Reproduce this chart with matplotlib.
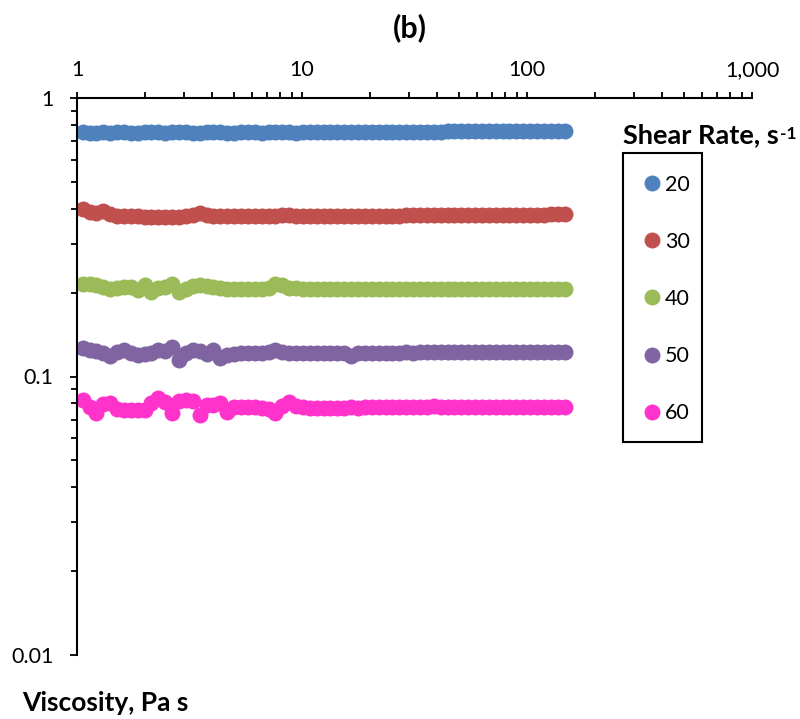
import matplotlib
matplotlib.use("Agg")
import matplotlib.pyplot as plt
from matplotlib.patches import Rectangle
from matplotlib.ticker import FixedLocator, FuncFormatter, LogLocator, NullFormatter

plt.rcParams['font.family'] = ['Lato', 'DejaVu Sans']

# Shear stress axis values (log-spaced sweep)
stress = [
    1.059, 1.137, 1.220, 1.309, 1.404, 1.507, 1.617, 1.735, 1.862, 1.997,
    2.143, 2.299, 2.467, 2.647, 2.841, 3.048, 3.270, 3.509, 3.765, 4.040,
    4.335, 4.652, 4.991, 5.356, 5.746, 6.166, 6.616, 7.099, 7.617, 8.173,
    8.770, 9.410, 10.10, 10.83, 11.63, 12.47, 13.38, 14.36, 15.41, 16.54,
    17.74, 19.04, 20.43, 21.92, 23.52, 25.23, 27.08, 29.06, 31.18, 33.46,
    35.89, 38.51, 41.33, 44.35, 47.58, 51.05, 54.78, 58.78, 63.07, 67.67,
    72.61, 77.91, 83.60, 89.70, 96.25, 103.3, 110.8, 118.9, 127.6, 136.9,
    146.9,
]

visc_20 = [
    0.752, 0.749, 0.751, 0.753, 0.750, 0.752, 0.754, 0.751, 0.750, 0.753,
    0.755, 0.752, 0.751, 0.753, 0.754, 0.752, 0.749, 0.751, 0.753, 0.754,
    0.752, 0.751, 0.750, 0.752, 0.753, 0.752, 0.751, 0.753, 0.755, 0.753,
    0.752, 0.751, 0.752,
    0.752, 0.752, 0.753, 0.753, 0.753, 0.754, 0.754, 0.754, 0.755, 0.755,
    0.755, 0.756, 0.756, 0.756, 0.757, 0.757, 0.757, 0.758, 0.758, 0.758,
    0.759, 0.759, 0.759, 0.760, 0.760, 0.760, 0.760, 0.761, 0.761, 0.761,
    0.761, 0.762, 0.762, 0.762, 0.762, 0.763, 0.763, 0.763,
]

visc_30 = [
    0.399, 0.389, 0.386, 0.393, 0.382, 0.378, 0.377, 0.377, 0.376, 0.375,
    0.374, 0.373, 0.373, 0.3725, 0.373, 0.376, 0.379, 0.386, 0.380, 0.378,
    0.377, 0.3765, 0.376, 0.376, 0.3765, 0.376, 0.376, 0.376, 0.3775, 0.379,
    0.380, 0.378, 0.377,
    0.3765, 0.3765, 0.377, 0.377, 0.377, 0.3775, 0.3775, 0.3775, 0.378, 0.378,
    0.378, 0.3785, 0.3785, 0.3785, 0.379, 0.379, 0.379, 0.3795, 0.3795, 0.3795,
    0.380, 0.380, 0.380, 0.3805, 0.3805, 0.3805, 0.381, 0.381, 0.381, 0.3812,
    0.3812, 0.3812, 0.3815, 0.3815, 0.3815, 0.3818, 0.3818, 0.3818,
]

visc_40 = [
    0.2155, 0.2145, 0.213, 0.209, 0.2065, 0.2085, 0.209, 0.2095, 0.2045, 0.2125,
    0.2005, 0.2075, 0.2095, 0.2145, 0.201, 0.2055, 0.211, 0.2125, 0.2115, 0.2095,
    0.208, 0.207, 0.2065, 0.2065, 0.207, 0.2065, 0.207, 0.2075, 0.2145, 0.2125,
    0.2085, 0.2075, 0.207,
    0.207, 0.2068, 0.2066, 0.2068, 0.207, 0.2068, 0.2066, 0.2065, 0.2067, 0.2068,
    0.2066, 0.2065, 0.2066, 0.2068, 0.2067, 0.2066, 0.2065, 0.2066, 0.2067, 0.2068,
    0.2067, 0.2066, 0.2066, 0.2067, 0.2068, 0.2067, 0.2066, 0.2067, 0.2068, 0.2068,
    0.2067, 0.2067, 0.2068, 0.2068, 0.2069, 0.2069, 0.207, 0.207,
]

visc_50 = [
    0.1265, 0.1245, 0.1235, 0.121, 0.118, 0.1225, 0.1245, 0.1215, 0.119, 0.1205,
    0.121, 0.1245, 0.123, 0.1275, 0.1145, 0.121, 0.1245, 0.1235, 0.1205, 0.124,
    0.1165, 0.119, 0.1205, 0.121, 0.1212, 0.1215, 0.1215, 0.1225, 0.1245, 0.1225,
    0.1215, 0.1212, 0.121,
    0.1212, 0.1214, 0.1213, 0.1215, 0.1214, 0.1216, 0.118, 0.1217, 0.1216, 0.1218,
    0.1217, 0.1218, 0.1219, 0.1218, 0.122, 0.1219, 0.122, 0.1221, 0.122, 0.1221,
    0.1222, 0.1221, 0.1222, 0.1222, 0.1223, 0.1222, 0.1223, 0.1223, 0.1224, 0.1223,
    0.1224, 0.1224, 0.1224, 0.1225, 0.1224, 0.1225, 0.1225, 0.1225,
]

visc_60 = [
    0.0825, 0.0775, 0.0742, 0.0795, 0.0805, 0.0765, 0.0757, 0.0757, 0.0758, 0.076,
    0.0805, 0.0835, 0.081, 0.0742, 0.0815, 0.0826, 0.0818, 0.0727, 0.079, 0.0792,
    0.0802, 0.0745, 0.0778, 0.078, 0.0778, 0.0776, 0.0772, 0.0765, 0.074, 0.0785,
    0.081, 0.0782, 0.0774,
    0.0772, 0.0771, 0.0772, 0.0773, 0.0772, 0.0773, 0.0774, 0.0773, 0.0774, 0.0775,
    0.0774, 0.0775, 0.0776, 0.0775, 0.0776, 0.0777, 0.0776, 0.0777, 0.0785, 0.0777,
    0.0778, 0.0777, 0.0778, 0.0778, 0.0779, 0.0778, 0.0779, 0.0779, 0.0779, 0.078,
    0.0779, 0.078, 0.078, 0.078, 0.078, 0.078, 0.078, 0.078,
]

series_labels = ["20", "30", "40", "50", "60"]
series_values = [visc_20, visc_30, visc_40, visc_50, visc_60]
series_colors = ["#4F81BD", "#C0504D", "#9BBB59", "#8064A2", "#FF33CC"]

x_ticks = [1, 10, 100, 1000]
y_ticks = [0.01, 0.1, 1]

W, H = 800, 719
fig = plt.figure(figsize=(W / 100, H / 100), dpi=100)
ax = fig.add_axes([77 / W, 1 - 655 / H, 675 / W, 557 / H])

for lab, vals, col in zip(series_labels, series_values, series_colors):
    ax.plot(stress, vals, linestyle="none", marker="o", markersize=11.5,
            markerfacecolor=col, markeredgecolor="none", label=lab)

ax.set_xscale("log")
ax.set_yscale("log")
ax.set_xlim(1, 1000)
ax.set_ylim(0.01, 1)

for side in ("right", "bottom"):
    ax.spines[side].set_visible(False)
for side in ("top", "left"):
    ax.spines[side].set_linewidth(1.5)
    ax.spines[side].set_color("black")

ax.xaxis.tick_top()
ax.xaxis.set_major_locator(FixedLocator(x_ticks))
ax.xaxis.set_major_formatter(FuncFormatter(lambda v, p: f"{v:,.0f}"))
ax.xaxis.set_minor_locator(LogLocator(base=10, subs=range(2, 10)))
ax.xaxis.set_minor_formatter(NullFormatter())
ax.yaxis.set_major_locator(FixedLocator(y_ticks))
ax.yaxis.set_major_formatter(FuncFormatter(lambda v, p: f"{v:g}"))
ax.yaxis.set_minor_locator(LogLocator(base=10, subs=range(2, 10)))
ax.yaxis.set_minor_formatter(NullFormatter())

ax.tick_params(axis="x", which="both", top=True, bottom=False, direction="out",
               width=1.3, color="black")
ax.tick_params(axis="x", which="major", length=4, pad=9, labelsize=15.5)
ax.tick_params(axis="x", which="minor", length=4)
ax.tick_params(axis="y", which="both", left=True, right=False, direction="out",
               width=1.3, color="black")
ax.tick_params(axis="y", which="major", length=5, pad=12, labelsize=15.5)
ax.tick_params(axis="y", which="minor", length=4.5)

# Legend entries (frame drawn separately as a plain rectangle)
fs = 15.5
leg = ax.legend(loc="upper left", bbox_to_anchor=(623 / W, 1 - 153 / H),
                bbox_transform=fig.transFigure, fontsize=fs, frameon=False,
                borderaxespad=0.0, borderpad=1.02, labelspacing=1.72,
                handlelength=0.65, handletextpad=0.28, numpoints=1)
fig.patches.append(Rectangle((623 / W, 1 - 442 / H), 79 / W, 289 / H,
                             transform=fig.transFigure, fill=False,
                             edgecolor="black", linewidth=1.5))

fig.text(410 / W, 1 - 28 / H, "(b)", fontsize=22, fontweight="bold",
         ha="center", va="center")

# Legend heading with a small raised "-1"
head = fig.text(623 / W, 1 - 135 / H, "Shear Rate, s", fontsize=19.5,
                fontweight="bold", ha="left", va="center")
fig.canvas.draw()
hb = head.get_window_extent()
fig.text((hb.x1 + 1) / W, (hb.y1 - 3) / H, "-1", fontsize=12.5,
         fontweight="bold", ha="left", va="top")

fig.text(22 / W, 1 - 703 / H, "Viscosity, Pa s", fontsize=19,
         fontweight="bold", ha="left", va="center")

fig.savefig("out.png", dpi=100)
